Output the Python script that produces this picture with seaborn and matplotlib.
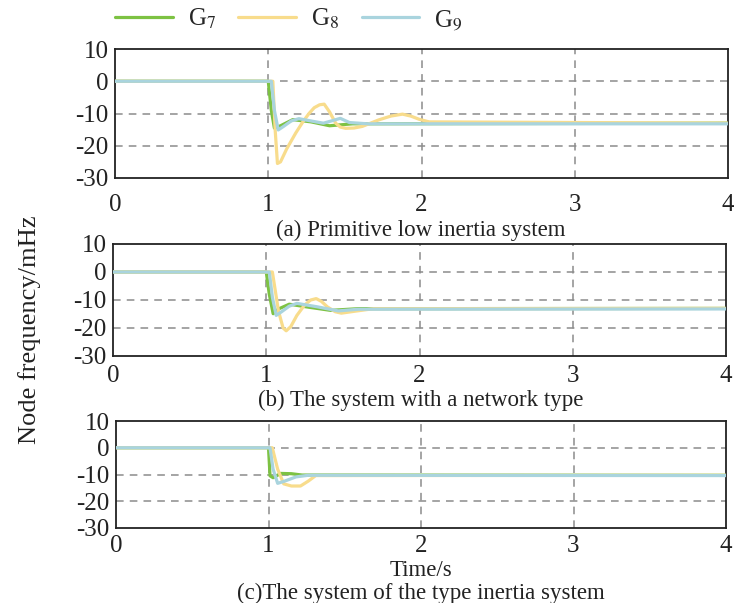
import pandas as pd
import matplotlib
matplotlib.use("Agg")
import matplotlib.pyplot as plt
import seaborn as sns

# values (time in s, node frequency in mHz)
series_names = ["G$_7$", "G$_8$", "G$_9$"]
line_colors = ["#7dc243", "#f8dc8c", "#a9d4de"]

# (a) primitive low inertia system
t_a_g7 = [0, 1.0, 1.02, 1.04, 1.08, 1.16, 1.28, 1.40, 1.55, 4.0]
v_a_g7 = [0, 0, -9, -14.5, -13.8, -11.9, -12.6, -13.8, -13.2, -13.0]
t_a_g8 = [0, 1.03, 1.045, 1.06, 1.08, 1.12, 1.18, 1.23, 1.266, 1.30, 1.335, 1.365, 1.40, 1.44, 1.47, 1.505,
          1.56, 1.614, 1.72, 1.80, 1.876, 1.93, 1.985, 2.05, 4.0]
v_a_g8 = [0, 0, -15, -25.5, -25.0, -21.0, -16.0, -12.3, -10.0, -8.2, -7.3, -7.1, -9.5, -13.0, -14.2, -14.6,
          -14.5, -14.0, -12.0, -10.8, -10.2, -10.8, -11.8, -12.6, -13.0]
t_a_g9 = [0, 1.02, 1.04, 1.065, 1.10, 1.15, 1.20, 1.30, 1.36, 1.42, 1.47, 1.53, 1.65, 4.0]
v_a_g9 = [0, 0, -9, -15.1, -14.0, -12.3, -11.6, -12.5, -13.0, -12.2, -11.5, -12.8, -13.2, -13.2]

# (b) the system with a network type
t_b_g7 = [0, 1.0, 1.02, 1.045, 1.08, 1.15, 1.28, 1.42, 1.6, 4.0]
v_b_g7 = [0, 0, -8, -14.9, -13.2, -11.5, -12.6, -13.7, -13.1, -13.0]
t_b_g8 = [0, 1.04, 1.08, 1.11, 1.13, 1.16, 1.20, 1.25, 1.29, 1.326, 1.36, 1.40, 1.45, 1.49, 1.58, 1.70, 4.0]
v_b_g8 = [0, 0, -14, -20, -21, -19.5, -15.5, -11.8, -10.0, -9.5, -10.5, -12.5, -14.2, -14.7, -14, -13.1, -13.0]
t_b_g9 = [0, 1.02, 1.04, 1.065, 1.10, 1.15, 1.20, 1.33, 1.47, 1.6, 4.0]
v_b_g9 = [0, 0, -9, -15.5, -14.2, -12.2, -11.2, -12.4, -13.9, -13.3, -13.2]

# (c) the system of the type inertia system
t_c_g7 = [0, 1.0, 1.01, 1.03, 1.08, 1.15, 1.22, 4.0]
v_c_g7 = [0, 0, -10.5, -11.2, -9.6, -9.7, -10.2, -10.3]
t_c_g8 = [0, 1.025, 1.06, 1.10, 1.15, 1.21, 1.26, 1.31, 4.0]
v_c_g8 = [0, 0, -8, -13.5, -14.3, -14.3, -12.5, -10.4, -10.3]
t_c_g9 = [0, 1.01, 1.03, 1.06, 1.10, 1.18, 1.26, 4.0]
v_c_g9 = [0, 0, -8, -13.3, -12.6, -10.9, -10.3, -10.4]

panel_titles = ["(a) Primitive low inertia system",
                "(b) The system with a network type",
                "(c)The system of the type inertia system"]
x_ticks = [0, 1, 2, 3, 4]
y_ticks = [10, 0, -10, -20, -30]

panels = [
    [(t_a_g7, v_a_g7), (t_a_g8, v_a_g8), (t_a_g9, v_a_g9)],
    [(t_b_g7, v_b_g7), (t_b_g8, v_b_g8), (t_b_g9, v_b_g9)],
    [(t_c_g7, v_c_g7), (t_c_g8, v_c_g8), (t_c_g9, v_c_g9)],
]

sns.set_theme(style="white")
plt.rcParams["font.family"] = ["Liberation Serif", "DejaVu Serif"]
plt.rcParams["mathtext.fontset"] = "stix"
plt.rcParams["axes.unicode_minus"] = False

W, H = 734, 603
fig = plt.figure(figsize=(W / 100, H / 100), dpi=100)
boxes_px = [(115, 49, 728, 178), (113, 244, 726, 356), (116, 421, 726, 528)]
xtick_pad = [8, 3, 1.5]
title_y_px = [230, 400, 593]

text_color = "#222222"
for i, (box, series) in enumerate(zip(boxes_px, panels)):
    l, t, r, b = box
    ax = fig.add_axes([l / W, 1 - b / H, (r - l) / W, (b - t) / H])
    frames = []
    for name, (tt, vv) in zip(series_names, series):
        frames.append(pd.DataFrame({"t": tt, "v": vv, "unit": name}))
    df = pd.concat(frames, ignore_index=True)
    sns.lineplot(data=df, x="t", y="v", hue="unit", palette=line_colors,
                 hue_order=series_names, sort=False, linewidth=2.3,
                 legend=(i == 0), ax=ax, zorder=3)
    ax.set_xlim(0, 4)
    ax.set_ylim(-30, 10)
    ax.set_xticks(x_ticks)
    ax.set_yticks(y_ticks)
    ax.set_xlabel("")
    ax.set_ylabel("")
    for x in [1, 2, 3]:
        ax.axvline(x, color="#8c8c8c", linestyle=(0, (5, 4)), linewidth=1.1, zorder=1)
    for y in [0, -10, -20]:
        ax.axhline(y, color="#8c8c8c", linestyle=(0, (5, 4)), linewidth=1.1, zorder=1)
    for s in ax.spines.values():
        s.set_color(text_color)
        s.set_linewidth(1.3)
    ax.tick_params(axis="both", direction="inout", length=7, width=1.2,
                   labelsize=18, colors=text_color)
    ax.tick_params(axis="x", pad=xtick_pad[i])
    ax.tick_params(axis="y", pad=1)
    fig.text(0.573, 1 - title_y_px[i] / H, panel_titles[i], ha="center", va="center",
             fontsize=16.5, color=text_color)
    if i == 0:
        handles, labels = ax.get_legend_handles_labels()
        ax.get_legend().remove()

fig.legend(handles, labels, loc="upper left", bbox_to_anchor=(115 / W, 1 - 7 / H),
           ncol=3, frameon=False, fontsize=18, handlelength=2.3, borderpad=0,
           borderaxespad=0, handletextpad=0.6, columnspacing=0.9)
fig.text(0.573, 1 - 570 / H, "Time/s", ha="center", va="center", fontsize=16.5, color=text_color)
fig.text(30 / W, 1 - 330 / H, "Node frequency/mHz", rotation=90, ha="center", va="center",
         fontsize=19, color=text_color)

fig.savefig("out.png", dpi=100)
